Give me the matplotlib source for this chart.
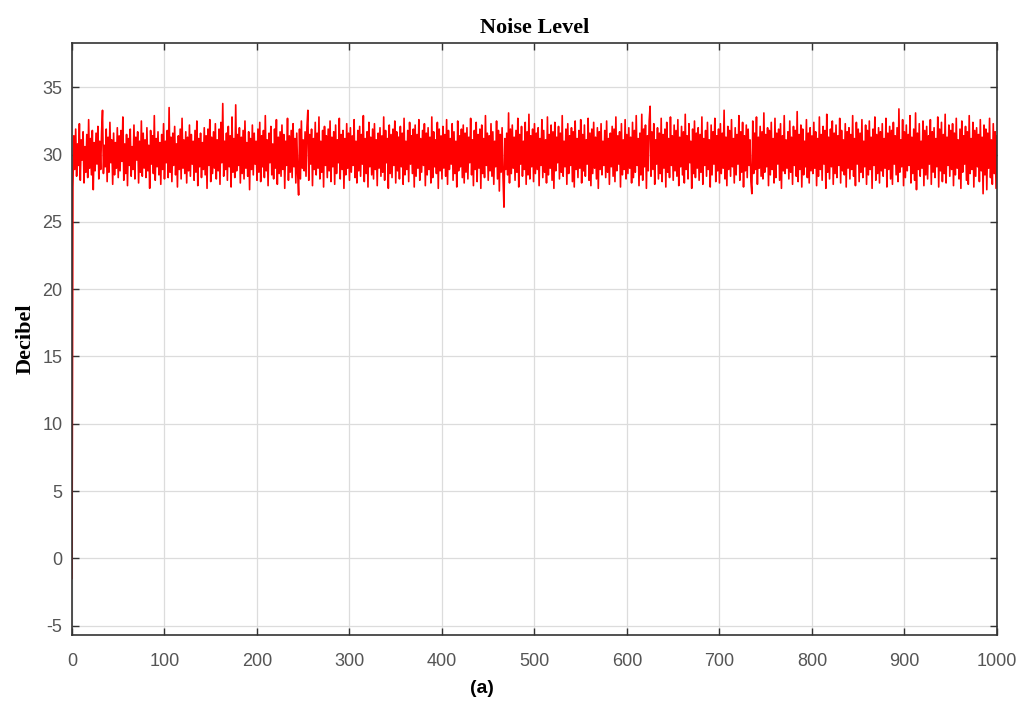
import matplotlib.pyplot as plt
import numpy as np

plt.rcParams['axes.unicode_minus'] = False

# Noise level samples (dB), one per unit of x
start_vals = [-1.5]
noise_vals = [
    27.6, 31.4, 28.9, 31.9, 28.4, 30.8, 29.2, 32.3, 28.1, 31.1, 29.6, 31.7, 27.9, 30.6, 28.7, 31.5, 28.3, 32.6, 29.0, 31.2, 28.5, 31.8, 27.4, 30.9, 28.8,
    31.6, 29.3, 32.1, 28.2, 31.0, 28.9, 31.7, 33.3, 28.6, 30.7, 29.1, 31.9, 28.0, 31.3, 28.7, 32.4, 29.4, 31.1, 27.8, 31.6, 28.5, 30.9, 29.0, 32.0, 28.3,
    31.4, 28.8, 31.8, 29.5, 32.8, 28.1, 30.8, 28.6, 31.5, 27.7, 31.2, 29.2, 31.9, 28.4, 30.6, 28.9, 32.2, 28.2, 31.3, 29.6, 31.7, 27.9, 31.0, 28.7, 32.5,
    28.4, 31.6, 29.0, 31.1, 28.3, 32.0, 28.8, 30.7, 27.5, 31.8, 29.3, 31.4, 28.6, 32.9, 28.1, 31.2, 29.1, 31.7, 28.5, 30.9, 27.8, 31.5, 28.9, 32.3, 28.2,
    31.0, 29.4, 31.8, 28.3, 33.5, 28.7, 31.3, 28.0, 31.6, 29.2, 32.1, 28.5, 30.8, 27.6, 31.4, 28.9, 31.9, 28.2, 32.7, 29.0, 31.1, 28.6, 31.7, 27.9, 31.3,
    28.8, 32.2, 28.4, 31.5, 29.3, 31.0, 28.1, 31.8, 28.7, 32.5, 27.7, 31.2, 29.1, 31.6, 28.3, 30.9, 28.9, 32.0, 28.5, 31.4, 27.5, 31.9, 29.2, 32.6, 28.0,
    31.3, 28.6, 31.7, 29.0, 32.3, 28.2, 31.1, 28.8, 31.9, 27.8, 32.4, 29.4, 33.8, 28.4, 31.0, 28.9, 31.6, 28.1, 32.1, 29.1, 31.4, 27.6, 32.8, 28.7, 31.2,
    28.3, 33.7, 28.8, 31.5, 29.2, 32.0, 27.9, 31.3, 28.6, 31.8, 28.2, 32.5, 29.0, 30.9, 28.4, 31.7, 27.4, 31.2, 28.9, 32.2, 28.5, 31.6, 29.3, 31.0, 28.1,
    31.9, 28.7, 32.4, 28.0, 31.4, 29.1, 31.8, 28.3, 32.9, 28.8, 31.1, 27.7, 31.6, 29.4, 32.1, 28.5, 30.8, 28.2, 31.9, 29.0, 32.6, 27.8, 31.3, 28.6, 31.7,
    28.4, 32.2, 28.9, 31.5, 27.5, 31.0, 29.2, 32.7, 28.1, 31.4, 28.7, 31.8, 28.3, 32.3, 29.1, 31.2, 27.9, 31.6, 28.6, 27.0, 31.9, 28.2, 32.5, 29.0, 31.1,
    28.8, 31.7, 28.4, 32.0, 33.3, 28.1, 31.5, 29.3, 31.9, 27.7, 31.2, 28.9, 32.4, 28.5, 31.6, 29.0, 32.8, 28.2, 31.0, 28.7, 31.8, 27.6, 32.1, 29.2, 31.4,
    28.3, 31.9, 28.8, 32.5, 28.0, 31.3, 29.1, 31.7, 27.8, 32.2, 28.6, 31.1, 29.4, 32.7, 28.2, 31.5, 28.9, 31.8, 27.5, 31.2, 28.5, 32.3, 29.0, 31.6, 28.1,
    32.0, 28.7, 31.4, 29.2, 32.6, 28.3, 31.0, 27.9, 31.8, 28.8, 32.1, 28.4, 31.5, 29.3, 32.9, 28.0, 31.2, 28.6, 31.7, 27.6, 32.4, 29.1, 31.3, 28.5, 31.9,
    28.2, 32.3, 28.9, 31.1, 27.7, 31.6, 29.0, 32.0, 28.4, 31.4, 28.7, 32.8, 28.1, 31.8, 29.4, 31.2, 27.5, 32.2, 28.6, 31.5, 28.3, 31.9, 29.2, 32.5, 27.9,
    31.7, 28.8, 31.3, 28.2, 32.1, 29.1, 31.6, 27.8, 32.7, 28.5, 31.0, 28.9, 31.8, 28.0, 32.4, 29.3, 31.4, 28.6, 31.9, 27.6, 32.2, 28.4, 31.5, 29.0, 32.6,
    28.1, 31.2, 28.7, 31.8, 29.2, 32.3, 27.7, 31.6, 28.5, 32.0, 28.9, 31.3, 27.9, 32.8, 28.3, 31.7, 29.1, 31.1, 28.6, 32.4, 27.5, 31.9, 28.8, 31.4, 28.2,
    32.1, 29.0, 31.5, 28.4, 32.6, 27.8, 31.8, 28.9, 31.2, 29.3, 32.3, 28.1, 31.7, 28.6, 31.0, 27.6, 32.5, 28.8, 31.4, 29.1, 31.9, 28.3, 32.2, 27.9, 31.6,
    28.7, 32.0, 28.2, 31.3, 29.4, 32.7, 28.5, 31.1, 27.7, 31.8, 28.9, 32.4, 28.0, 31.5, 29.0, 31.9, 27.5, 32.2, 28.6, 31.2, 28.3, 32.9, 29.2, 31.6, 28.1,
    31.4, 28.8, 32.3, 28.4, 31.7, 27.8, 31.0, 29.1, 32.5, 28.2, 31.8, 27.3, 31.5, 28.7, 32.0, 28.3, 26.1, 31.2, 28.9, 31.6, 28.5, 33.1, 27.9, 31.9, 28.6,
    32.2, 29.0, 31.3, 28.1, 31.8, 28.7, 32.7, 27.6, 31.5, 29.3, 32.1, 28.4, 31.0, 28.9, 32.4, 27.8, 31.7, 28.5, 33.0, 28.2, 31.4, 29.1, 31.9, 28.0, 32.3,
    28.6, 31.6, 28.9, 32.0, 27.7, 31.2, 29.2, 32.6, 28.3, 31.8, 28.7, 31.1, 27.9, 32.8, 28.5, 31.5, 29.0, 32.2, 28.1, 31.7, 27.5, 32.4, 28.8, 31.3, 29.4,
    32.1, 28.2, 31.6, 28.7, 32.9, 28.4, 31.0, 29.1, 31.9, 27.8, 32.3, 28.6, 31.4, 29.2, 32.0, 28.0, 31.7, 27.6, 32.5, 28.9, 31.2, 28.3, 31.8, 29.0, 32.6,
    27.9, 31.5, 28.8, 32.2, 28.4, 31.1, 29.3, 32.7, 28.1, 31.6, 27.7, 31.9, 28.6, 32.4, 29.0, 31.3, 28.2, 32.0, 27.5, 31.7, 28.9, 32.3, 28.5, 31.0, 29.2,
    31.8, 28.3, 32.5, 28.7, 31.2, 27.8, 31.6, 29.1, 32.1, 28.4, 31.9, 28.0, 32.8, 28.8, 31.4, 29.3, 31.7, 27.6, 32.3, 28.5, 31.1, 28.9, 32.6, 28.2, 31.5,
    28.6, 32.0, 29.0, 31.3, 27.9, 32.4, 28.3, 31.8, 28.7, 32.9, 29.2, 31.2, 27.7, 31.6, 28.5, 33.0, 28.1, 31.9, 29.1, 32.2, 27.5, 31.4, 28.8, 32.5, 33.6,
    28.4, 31.7, 28.9, 32.3, 27.8, 31.1, 29.3, 32.0, 28.2, 31.6, 28.6, 32.7, 28.0, 31.5, 29.0, 31.9, 27.6, 32.4, 28.7, 31.2, 28.3, 32.8, 29.2, 31.4, 28.1,
    32.2, 28.8, 31.8, 28.4, 32.6, 27.7, 31.3, 29.1, 32.1, 28.5, 31.7, 27.9, 33.0, 28.9, 31.4, 28.2, 32.3, 29.4, 31.0, 27.5, 31.9, 28.6, 32.5, 28.3, 31.6,
    29.0, 32.0, 28.1, 31.5, 28.7, 32.8, 27.8, 31.2, 29.2, 31.8, 28.4, 32.4, 28.9, 31.1, 27.6, 32.2, 28.5, 31.7, 29.3, 32.7, 28.0, 31.4, 28.8, 31.9, 27.9,
    32.3, 28.6, 31.6, 29.0, 33.3, 28.2, 31.3, 27.7, 32.1, 28.9, 31.8, 28.4, 32.6, 29.1, 31.2, 27.9, 32.0, 28.5, 31.5, 29.3, 32.9, 28.1, 31.7, 28.7, 32.4,
    27.6, 31.4, 28.8, 32.2, 28.3, 31.9, 29.2, 31.1, 28.0, 27.1, 32.5, 28.6, 31.6, 28.9, 32.8, 27.8, 31.3, 29.0, 32.1, 28.4, 31.7, 28.2, 33.1, 28.7, 31.5,
    29.1, 32.0, 27.7, 31.8, 28.5, 32.4, 28.9, 31.2, 27.9, 32.7, 28.3, 31.6, 29.3, 31.9, 28.1, 32.3, 27.5, 31.4, 28.8, 32.9, 28.6, 31.1, 29.0, 31.7, 28.2,
    32.5, 28.7, 31.3, 27.8, 32.1, 29.2, 31.8, 28.4, 33.2, 28.0, 31.5, 28.9, 32.2, 27.6, 31.9, 28.5, 31.0, 29.1, 32.6, 28.3, 31.6, 27.9, 32.0, 28.8, 31.4,
    28.6, 32.4, 29.0, 31.7, 27.7, 31.2, 28.4, 32.8, 28.9, 31.5, 28.1, 32.1, 29.3, 31.8, 27.5, 33.0, 28.7, 31.3, 28.2, 31.9, 29.1, 32.5, 27.8, 31.6, 28.6,
    32.2, 28.3, 31.4, 29.2, 32.7, 27.9, 31.8, 28.8, 31.1, 28.5, 32.3, 27.6, 31.7, 29.0, 32.0, 28.2, 31.5, 28.9, 32.9, 28.4, 31.2, 27.7, 32.4, 29.3, 31.9,
    28.0, 31.6, 28.7, 32.6, 28.3, 31.0, 29.1, 32.2, 27.8, 31.8, 28.5, 32.5, 28.9, 31.3, 27.5, 31.9, 29.2, 32.8, 28.1, 31.5, 28.6, 32.0, 27.9, 31.7, 28.8,
    32.3, 28.4, 31.2, 29.0, 32.7, 27.6, 31.6, 28.9, 32.1, 28.2, 31.8, 27.8, 32.4, 29.3, 31.4, 28.5, 32.0, 28.0, 33.4, 28.7, 31.1, 29.1, 32.6, 27.7, 31.7,
    28.3, 32.2, 28.8, 31.5, 29.2, 32.9, 27.9, 31.3, 28.6, 31.9, 28.1, 33.1, 27.4, 31.6, 28.9, 32.3, 28.4, 31.0, 29.0, 32.5, 27.7, 31.8, 28.5, 32.1, 28.2,
    31.4, 29.3, 32.6, 27.8, 31.7, 28.7, 32.0, 28.3, 31.2, 29.1, 32.8, 27.6, 31.9, 28.8, 32.4, 28.0, 31.5, 28.6, 33.0, 27.9, 31.3, 29.2, 32.2, 28.4, 31.8,
    28.9, 32.3, 27.7, 31.6, 28.5, 32.7, 29.0, 31.1, 28.2, 31.9, 27.5, 32.5, 28.7, 31.4, 29.3, 32.1, 28.1, 31.7, 27.8, 32.9, 28.6, 31.2, 28.9, 32.4, 27.6,
    31.8, 28.4, 32.0, 29.1, 31.5, 28.0, 32.6, 28.8, 31.3, 27.1, 32.2, 28.5, 31.9, 27.4, 31.6, 29.0, 32.7, 28.3, 31.1, 27.8, 32.3, 28.6, 31.7, 27.5, 31.4,
]
db_vals = np.array(start_vals + noise_vals)
x_vals = np.arange(len(db_vals))

x_ticks = np.arange(0, 1001, 100)
y_ticks = np.arange(-5, 36, 5)

fig = plt.figure(figsize=(10.24, 7.05), dpi=100)
ax = fig.add_axes([0.0703, 0.0993, 0.9033, 0.8397])

ax.plot(x_vals, db_vals, color='#ff0000', linewidth=1.2)

ax.set_xlim(0, 1000)
ax.set_ylim(-5.7, 38.3)
ax.set_xticks(x_ticks)
ax.set_yticks(y_ticks)
ax.grid(True, color='#dcdcdc', linewidth=0.9)
ax.set_axisbelow(True)

ax.tick_params(direction='in', top=True, right=True, length=5, width=1,
               colors='#333333', labelcolor='#555555', labelsize=13)
ax.tick_params(axis='x', pad=13)
ax.tick_params(axis='y', pad=7)
for lbl in ax.get_xticklabels() + ax.get_yticklabels():
    lbl.set_family('Liberation Sans')
for sp in ax.spines.values():
    sp.set_color('#333333')
    sp.set_linewidth(1.2)

ax.set_title("Noise Level", fontfamily='Liberation Serif', fontweight='bold',
             fontsize=16, pad=7)
ax.set_ylabel("Decibel", fontfamily='Liberation Serif', fontweight='bold',
              fontsize=16, labelpad=5)
fig.text(0.471, 0.024, "(a)", fontfamily='Liberation Sans', fontweight='bold',
         fontsize=14, ha='center', va='center')

fig.savefig("out.png", dpi=100)
